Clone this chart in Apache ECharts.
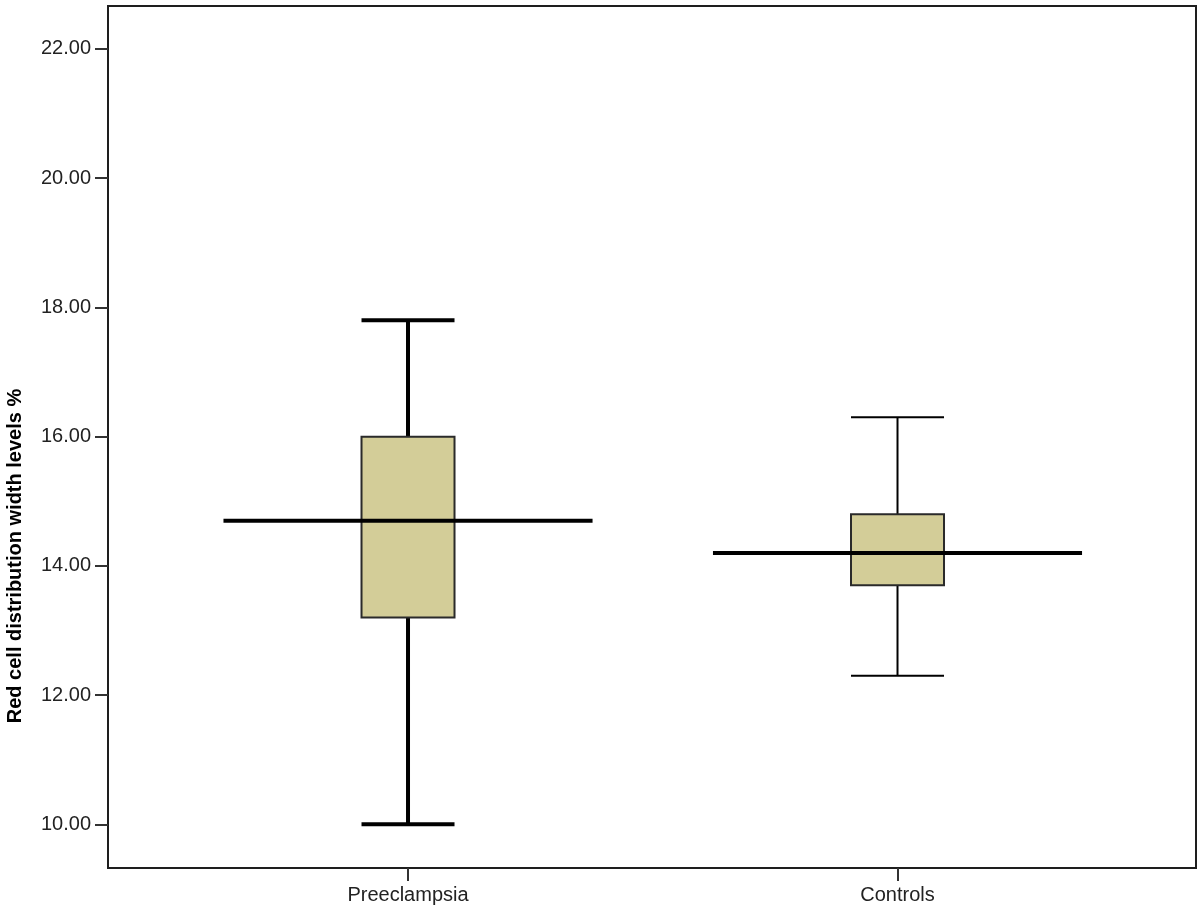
<!DOCTYPE html>
<html>
<head>
<meta charset="utf-8">
<script src="https://cdn.jsdelivr.net/npm/echarts@6/dist/echarts.min.js"></script>
<style>
  html, body { margin: 0; padding: 0; background: #fff; }
  #chart { width: 1200px; height: 911px; }
</style>
</head>
<body>
<div id="chart"></div>
<script>
// groups on the x axis
const categories = ['Preeclampsia', 'Controls']
// five-number summaries
const lowWhisker = [10.0, 12.3]
const q1 = [13.2, 13.7]
const median = [14.7, 14.2]
const q3 = [16.0, 14.8]
const highWhisker = [17.8, 16.3]
// y tick labels
const yTicks = [10, 12, 14, 16, 18, 20, 22]

// whisker stroke per group (SPSS drew the first one heavier)
const whiskerWidth = [4, 2]

const chart = echarts.init(document.getElementById('chart'))

const boxData = categories.map((c, i) => [i, lowWhisker[i], q1[i], median[i], q3[i], highWhisker[i]])

const renderBox = (params, api) => {
  const i = api.value(0)
  const boxHalf = 0.095
  const medHalf = 0.377
  const x0 = api.coord([i - boxHalf, 0])[0]
  const x1 = api.coord([i + boxHalf, 0])[0]
  const xc = api.coord([i, 0])[0]
  const m0 = api.coord([i - medHalf, 0])[0]
  const m1 = api.coord([i + medHalf, 0])[0]
  const yLo = api.coord([i, api.value(1)])[1]
  const yQ1 = api.coord([i, api.value(2)])[1]
  const yMed = api.coord([i, api.value(3)])[1]
  const yQ3 = api.coord([i, api.value(4)])[1]
  const yHi = api.coord([i, api.value(5)])[1]
  const ww = whiskerWidth[params.dataIndex]
  const ws = { stroke: '#000', lineWidth: ww }
  return {
    type: 'group',
    children: [
      { type: 'line', shape: { x1: xc, y1: yHi, x2: xc, y2: yQ3 }, style: ws },
      { type: 'line', shape: { x1: xc, y1: yQ1, x2: xc, y2: yLo }, style: ws },
      { type: 'line', shape: { x1: x0, y1: yHi, x2: x1, y2: yHi }, style: ws },
      { type: 'line', shape: { x1: x0, y1: yLo, x2: x1, y2: yLo }, style: ws },
      {
        type: 'rect',
        shape: { x: x0, y: yQ3, width: x1 - x0, height: yQ1 - yQ3 },
        style: { fill: '#d3cd98', stroke: '#2a2a2a', lineWidth: 2 }
      },
      { type: 'line', shape: { x1: m0, y1: yMed, x2: m1, y2: yMed }, style: { stroke: '#000', lineWidth: 4 } }
    ]
  }
}

chart.setOption({
  animation: false,
  backgroundColor: '#fff',
  textStyle: { fontFamily: 'Liberation Sans, Arial, sans-serif' },
  grid: {
    left: 108, right: 4, top: 6, bottom: 43,
    show: true, borderColor: '#1e1e1e', borderWidth: 2, backgroundColor: '#fff'
  },
  xAxis: {
    type: 'value',
    min: -0.6129, max: 1.6098,
    splitLine: { show: false },
    axisLine: { show: false, onZero: false },
    axisTick: { show: true, length: 13, customValues: [0, 1], lineStyle: { color: '#333', width: 2 } },
    axisLabel: {
      customValues: [0, 1], margin: 17, fontSize: 20, color: '#222',
      formatter: v => categories[Math.round(v)]
    }
  },
  yAxis: {
    type: 'value',
    min: 9.324, max: 22.665,
    splitLine: { show: false },
    axisLine: { show: false, onZero: false },
    axisTick: { show: true, length: 13, customValues: yTicks, lineStyle: { color: '#333', width: 2 } },
    axisLabel: {
      customValues: yTicks, margin: 17, fontSize: 20, color: '#222',
      formatter: v => v.toFixed(2)
    }
  },
  graphic: [{
    type: 'text',
    x: 15, y: 556, rotation: Math.PI / 2,
    style: {
      text: 'Red cell distribution width levels %',
      font: 'bold 20px "Liberation Sans", Arial, sans-serif',
      fill: '#000', align: 'center', verticalAlign: 'middle'
    }
  }],
  series: [{
    type: 'custom',
    renderItem: renderBox,
    encode: { x: 0, y: [1, 2, 3, 4, 5] },
    data: boxData
  }]
})
</script>
</body>
</html>
